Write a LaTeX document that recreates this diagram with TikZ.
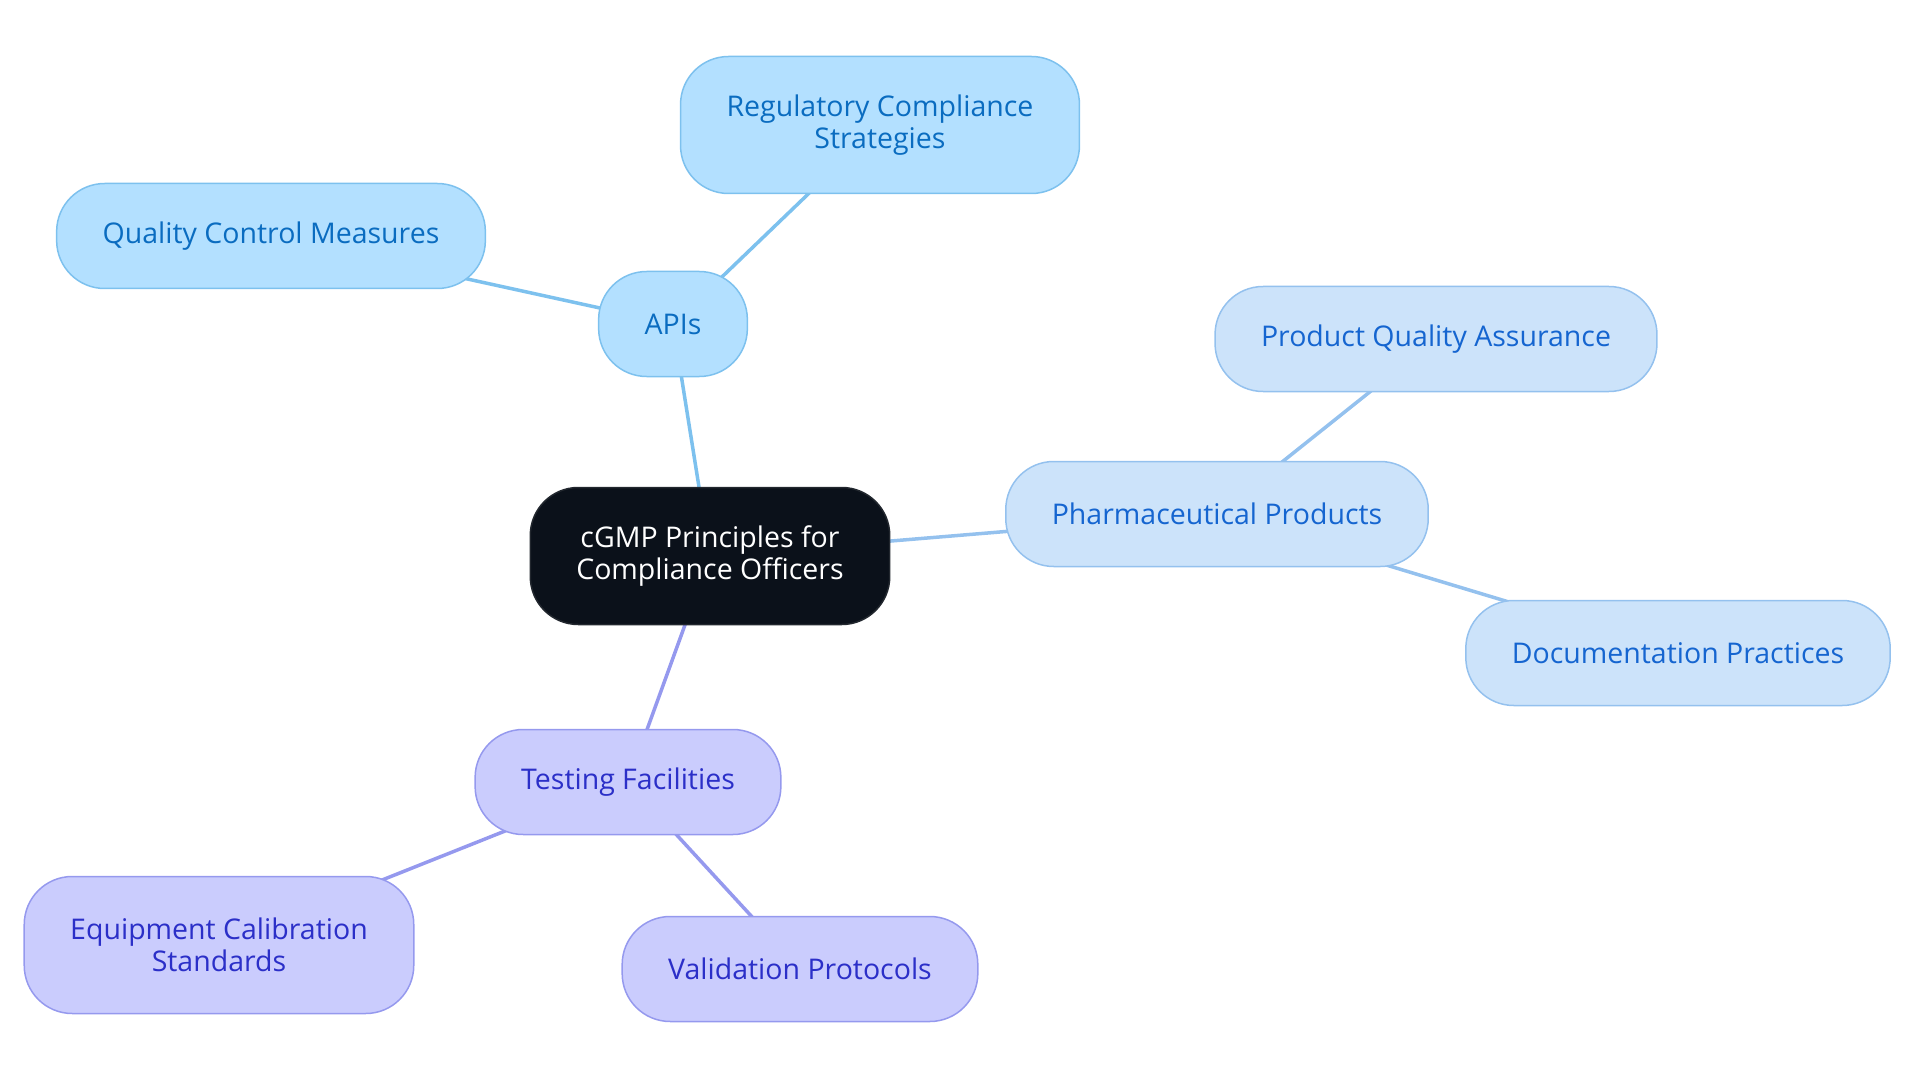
\documentclass[tikz,border=0pt]{standalone}
\usepackage{fontspec}
\setmainfont{Open Sans}
\usepackage{xcolor}
\definecolor{Root-fill}{HTML}{0B111A}
\definecolor{Api-fill}{HTML}{B3E0FF}
\definecolor{Api-line}{HTML}{7DC1EE}
\definecolor{Api-text}{HTML}{0A6CC0}
\definecolor{Pharma-fill}{HTML}{CCE3FA}
\definecolor{Pharma-line}{HTML}{94C1EE}
\definecolor{Pharma-text}{HTML}{1565D0}
\definecolor{Test-fill}{HTML}{CACCFD}
\definecolor{Test-line}{HTML}{9599EE}
\definecolor{Test-text}{HTML}{2B2FC8}
\usetikzlibrary{backgrounds}

\begin{document}
\begin{tikzpicture} [ % styles of the boxes
    x=1pt, y=-1pt, font=\fontsize{28.5}{32}\selectfont,
    box/.style = {shape = rectangle, rounded corners = 48pt, align = center, inner xsep = 46pt, inner ysep = 0pt, minimum height = 105pt, line width = 1.5pt},
    box-root/.style = {box, fill = Root-fill, draw = Root-fill!80!gray, text = white, minimum height = 137pt},
    box-api/.style = {box, fill = Api-fill, draw = Api-line, text = Api-text},
    box-pharma/.style = {box, fill = Pharma-fill, draw = Pharma-line, text = Pharma-text},
    box-test/.style = {box, fill = Test-fill, draw = Test-line, text = Test-text},
    link/.style = {line width = 3.5pt}
]

\useasboundingbox (0,0) rectangle (1920,1083);

% center
\node [box-root] (root) at (710,556){cGMP Principles for\\Compliance Officers};

% APIs branch
\node [box-api] (apis) at (673,324){APIs};
\node [box-api, minimum height = 137pt] (reg) at (880,125){Regulatory Compliance\\Strategies};
\node [box-api] (qcm) at (271,236){Quality Control Measures};

% Pharmaceutical branch
\node [box-pharma] (pharma) at (1217,514){Pharmaceutical Products};
\node [box-pharma] (pqa) at (1436,339){Product Quality Assurance};
\node [box-pharma] (doc) at (1678,653){Documentation Practices};

% Testing branch
\node [box-test] (test) at (628,782){Testing Facilities};
\node [box-test, minimum height = 137pt] (equip) at (219,945){Equipment Calibration\\Standards};
\node [box-test] (valid) at (800,969){Validation Protocols};

% links
\begin{scope}[on background layer]
\draw [link, Api-line] (root.center)--(apis.center);
\draw [link, Api-line] (apis.center)--(reg.center);
\draw [link, Api-line] (apis.center)--(qcm.center);

\draw [link, Pharma-line] (root.center)--(pharma.center);
\draw [link, Pharma-line] (pharma.center)--(pqa.center);
\draw [link, Pharma-line] (pharma.center)--(doc.center);

\draw [link, Test-line] (root.center)--(test.center);
\draw [link, Test-line] (test.center)--(equip.center);
\draw [link, Test-line] (test.center)--(valid.center);
\end{scope}

\end{tikzpicture}
\end{document}
